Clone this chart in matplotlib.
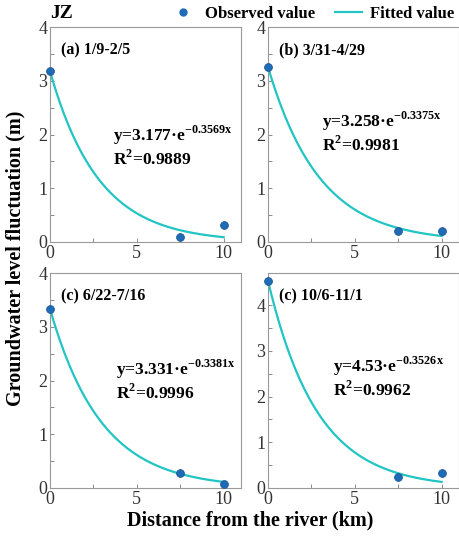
import numpy as np
import matplotlib.pyplot as plt
from matplotlib.ticker import MultipleLocator
from matplotlib.lines import Line2D

# --- dados ---
distancia = [0, 7.5, 10]
paineis = ["(a) 1/9-2/5", "(b) 3/31-4/29", "(c) 6/22-7/16", "(c) 10/6-11/1"]
observado = [
    [3.18, 0.10, 0.32],
    [3.26, 0.20, 0.20],
    [3.33, 0.28, 0.07],
    [4.52, 0.25, 0.33],
]
coef_a = [3.177, 3.258, 3.331, 4.53]
coef_b = [-0.3569, -0.3375, -0.3381, -0.3526]
textos_a = ["3.177", "3.258", "3.331", "4.53"]
textos_b = ["-0.3569", "-0.3375", "-0.3381", "-0.3526"]
r2 = ["0.9889", "0.9981", "0.9996", "0.9962"]
y_max = [4, 4, 4, 4.7]

plt.rcParams["font.family"] = ["Liberation Serif", "DejaVu Serif"]
plt.rcParams["mathtext.fontset"] = "custom"
plt.rcParams["mathtext.rm"] = "Liberation Serif"
plt.rcParams["mathtext.bf"] = "Liberation Serif:bold"

COR_PONTO = "#1e6bb8"
COR_LINHA = "#22c4c4"

fig = plt.figure(figsize=(4.6, 5.45), dpi=100)
W, H = 460, 545
# posições em pixels (esq, topo) de cada painel
posicoes = [(50, 27), (268, 27), (50, 273), (268, 273)]
larg_px, alt_px = 191, 215

# posição das equações na página (x esquerdo, linha de base), em pixels
pos_eq = [(113, 141), (322, 127), (116, 375), (333, 372)]

for i in range(4):
    x0, y0 = posicoes[i]
    ax = fig.add_axes([x0 / W, 1 - (y0 + alt_px) / H, larg_px / W, alt_px / H])
    xx = np.linspace(0, 10, 200)
    ax.plot(xx, coef_a[i] * np.exp(coef_b[i] * xx), color=COR_LINHA, lw=1.6, zorder=2)
    ax.scatter(distancia, observado[i], s=32, color=COR_PONTO,
               edgecolors="#154f8a", linewidths=0.5, zorder=3, clip_on=False)
    ax.set_xlim(0, 11)
    ax.set_ylim(0, y_max[i])
    ax.xaxis.set_major_locator(MultipleLocator(5))
    ax.xaxis.set_minor_locator(MultipleLocator(2.5))
    ax.yaxis.set_major_locator(MultipleLocator(1))
    ax.yaxis.set_minor_locator(MultipleLocator(0.5))
    ax.tick_params(which="both", direction="in", length=3, width=0.6,
                   color="#777777", labelsize=13, labelcolor="#333333", pad=2)
    for s in ax.spines.values():
        s.set_color("#999999")
        s.set_linewidth(0.8)
    ax.text(0.06, 0.93, paineis[i], transform=ax.transAxes, fontsize=11.5,
            fontweight="bold", va="top", ha="left")
    ex, ey = pos_eq[i]
    fig.text(ex / W, 1 - ey / H,
             "y=%s·e$^{\\mathbf{%s x}}$" % (textos_a[i], textos_b[i]),
             fontsize=12.5, fontweight="bold", ha="left", va="baseline")
    fig.text(ex / W, 1 - (ey + 24) / H,
             "R$^{\\mathbf{2}}$=%s" % r2[i],
             fontsize=12.5, fontweight="bold", ha="left", va="baseline")

fig.text(50 / W, 1 - 13 / H, "JZ", fontsize=14, fontweight="bold", va="center")
fig.text(15 / W, 1 - 258 / H, "Groundwater level fluctuation (m)", rotation=90,
         fontsize=14.5, fontweight="bold", ha="center", va="center")
fig.text(250 / W, 1 - 520 / H, "Distance from the river (km)", fontsize=14.5,
         fontweight="bold", ha="center", va="center")

handles = [
    Line2D([], [], marker="o", ls="none", color=COR_PONTO, markersize=5),
    Line2D([], [], color=COR_LINHA, lw=1.6),
]
fig.legend(handles, ["Observed value", "Fitted value"], loc="center left",
           bbox_to_anchor=(170 / W, 1 - 14 / H), ncol=2, frameon=False,
           prop={"weight": "bold", "size": 12}, handlelength=1.6,
           handletextpad=0.5, columnspacing=1.2, borderaxespad=0, borderpad=0)

fig.savefig("out.png", dpi=100)
